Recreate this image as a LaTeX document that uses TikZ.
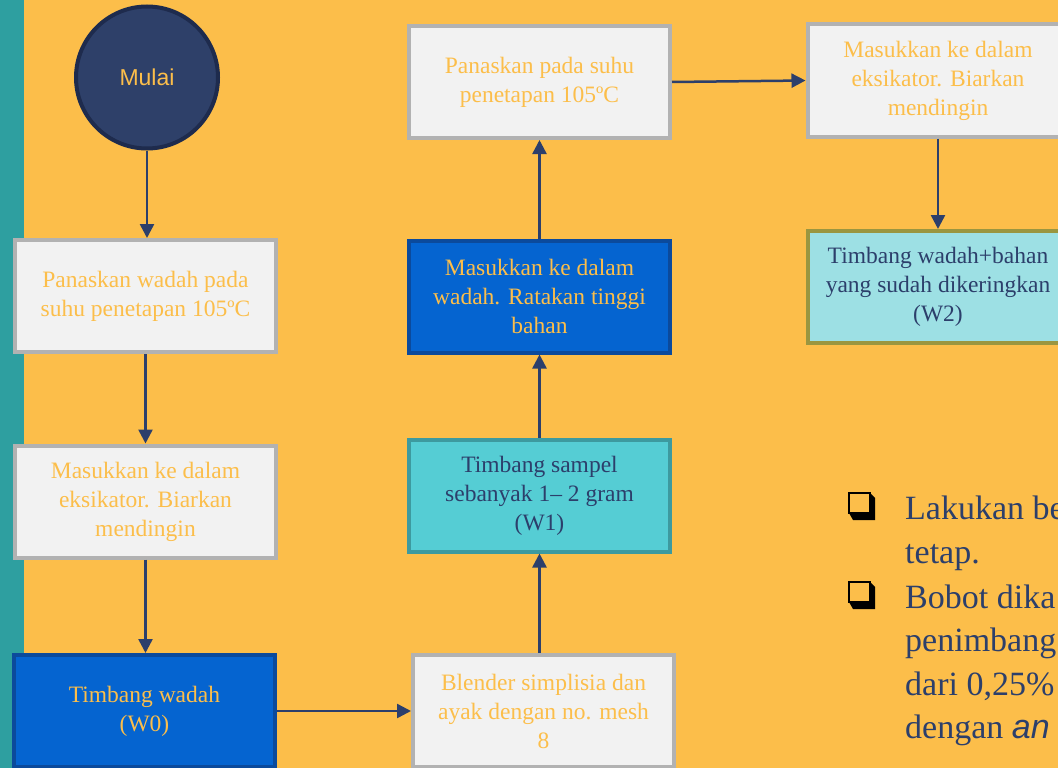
\documentclass[tikz,border=0pt]{standalone}
\usepackage{fontspec}
\setmainfont{Liberation Serif}
\newfontfamily\arialf{Liberation Sans}
\usetikzlibrary{arrows.meta}
\definecolor{bgorange}{HTML}{FCBE4A}
\definecolor{stripteal}{HTML}{2E9FA0}
\definecolor{txtorange}{HTML}{FCBE4A}
\definecolor{navy}{HTML}{2C3F6B}
\definecolor{circfill}{HTML}{2E4069}
\definecolor{circborder}{HTML}{1E2B4D}
\definecolor{boxgray}{HTML}{F2F2F2}
\definecolor{bordergray}{HTML}{B2B2B2}
\definecolor{boxblue}{HTML}{0564D0}
\definecolor{borderblue}{HTML}{0B4A9C}
\definecolor{cyanA}{HTML}{55CDD4}
\definecolor{cyanAborder}{HTML}{3D9A9F}
\definecolor{cyanB}{HTML}{9DE0E4}
\definecolor{oliveB}{HTML}{9A9640}
\tikzset{
  box/.style={rectangle, line width=4pt, minimum width=261pt, minimum height=112pt,
    inner sep=2pt, align=center, font=\fontsize{23.5}{29}\selectfont},
  graybox/.style={box, fill=boxgray, draw=bordergray, text=txtorange},
  bluebox/.style={box, fill=boxblue, draw=borderblue, text=txtorange},
  cyanbox/.style={box, fill=cyanA, draw=cyanAborder, text=navy},
  lightbox/.style={box, fill=cyanB, draw=oliveB, text=navy},
  flow/.style={draw=navy, line width=2.5pt, -{Triangle[width=14pt,length=14pt]}},
  bullettext/.style={anchor=base west, inner sep=0pt, text=navy, font=\fontsize{34}{41}\selectfont},
  chk/.pic={
    \fill[black] (0,20) -- (21,20) -- (21,0) -- (26,5) -- (26,27) -- (4,27) -- cycle;
    \draw[black, line width=2.2pt] (0,0) rectangle (21,20);
  }
}
\begin{document}
\begin{tikzpicture}[x=1pt,y=-1pt]
\useasboundingbox (0,0) rectangle (1058,768);
\clip (0,0) rectangle (1058,768);
\fill[bgorange] (0,0) rectangle (1058,768);
\fill[stripteal] (0,0) rectangle (24,768);

\node[circle, fill=circfill, draw=circborder, line width=4pt, minimum size=142pt,
  text=txtorange, font=\arialf\fontsize{23}{28}\selectfont] (start) at (147,77.5) {Mulai};

\node[graybox] (b1) at (145.5,296) {Panaskan wadah pada\\suhu penetapan 105ºC};
\node[graybox] (b2) at (145.5,501.5) {Masukkan ke dalam\\eksikator. Biarkan\\mendingin};
\node[bluebox] (b3) at (144.5,711) {Timbang wadah\\(W0)};
\node[graybox] (b4) at (543.5,711) {Blender simplisia dan\\ayak dengan no. mesh\\8};
\node[cyanbox] (b5) at (539.5,495.5) {Timbang sampel\\sebanyak 1– 2 gram\\(W1)};
\node[bluebox] (b6) at (539.5,296.5) {Masukkan ke dalam\\wadah. Ratakan tinggi\\bahan};
\node[graybox] (b7) at (539.5,82) {Panaskan pada suhu\\penetapan 105ºC};
\node[graybox] (b8) at (938,80.5) {Masukkan ke dalam\\eksikator. Biarkan\\mendingin};
\node[lightbox] (b9) at (938,287) {Timbang wadah+bahan\\yang sudah dikeringkan\\(W2)};

\draw[flow] (start.south) -- (start.south |- b1.north);
\draw[flow] (b1.south) -- (b2.north);
\draw[flow] (b2.south) -- (b2.south |- b3.north);
\draw[flow] (b3.east) -- (b4.west);
\draw[flow] (b5.south |- b4.north) -- (b5.south);
\draw[flow] (b5.north) -- (b6.south);
\draw[flow] (b6.north) -- (b7.south);
\draw[flow] (b7.east) -- (b8.west);
\draw[flow] (b8.south) -- (b9.north);

\pic at (849,493) {chk};
\pic at (849,582) {chk};
\node[bullettext] (l1) at (905,519) {Lakukan be};
\node[bullettext] (l2) at (905,563) {tetap.};
\node[bullettext] (l3) at (905,608) {Bobot dika};
\node[bullettext] (l4) at (905,651) {penimbang};
\node[bullettext] (l5) at (905,695) {dari 0,25\%};
\node[bullettext] (l6) at (905,738) {dengan {\arialf\itshape an}};
\end{tikzpicture}
\end{document}
